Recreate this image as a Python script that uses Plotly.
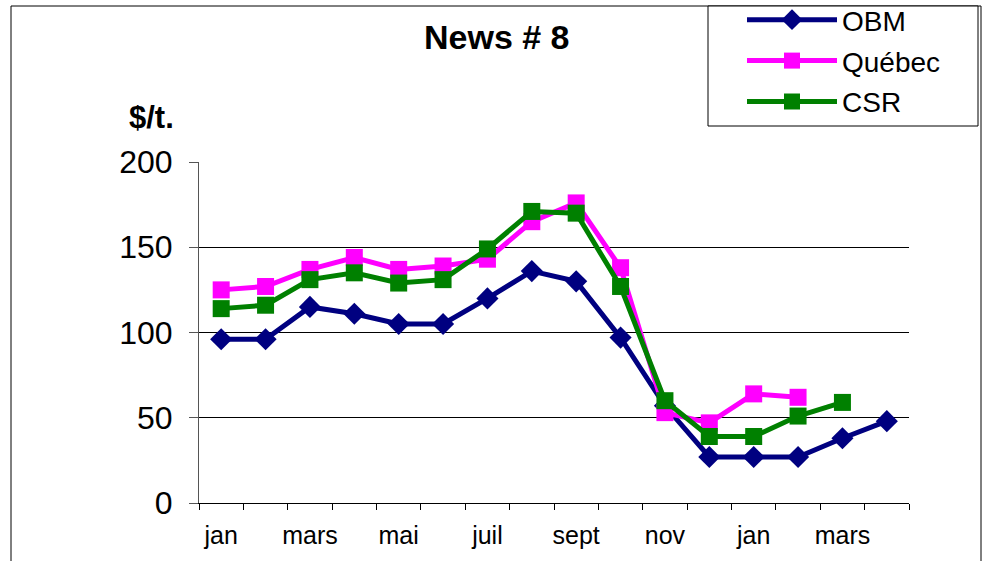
import plotly.graph_objects as go

months = ["jan", "fév", "mars", "avr", "mai", "juin", "juil", "août",
          "sept", "oct", "nov", "déc", "jan", "fév", "mars", "avr"]
tick_labels = ["jan", "mars", "mai", "juil", "sept", "nov", "jan", "mars"]

obm = [96, 96, 115, 111, 105, 105, 120, 136, 130, 97, 57, 27, 27, 27, 38, 48]
quebec = [125, 127, 137, 144, 137, 139, 143, 165, 176, 138, 53, 47, 64, 62]
csr = [114, 116, 131, 135, 129, 131, 149, 171, 170, 127, 60, 39, 39, 51, 59]

FONT = "Liberation Sans, Arial, sans-serif"

xi = list(range(len(months)))

fig = go.Figure()
fig.add_trace(go.Scatter(
    x=xi[:len(obm)], y=obm, name="OBM", mode="lines+markers",
    legendgroup="a",
    line=dict(color="#000080", width=5),
    marker=dict(symbol="diamond", size=17, color="#000080")))
fig.add_trace(go.Scatter(
    x=xi[:len(quebec)], y=quebec, name="Québec", mode="lines+markers",
    legendgroup="b",
    line=dict(color="#FF00FF", width=5),
    marker=dict(symbol="square", size=17, color="#FF00FF")))
fig.add_trace(go.Scatter(
    x=xi[:len(csr)], y=csr, name="CSR", mode="lines+markers",
    legendgroup="c",
    line=dict(color="#008000", width=5),
    marker=dict(symbol="square", size=17, color="#008000")))

L, R, T, B = 199, 77, 162, 58
W, H = 986, 561
pw, ph = W - L - R, H - T - B

def px(x):
    return (x - L) / pw

def py(y):
    return (H - B - y) / ph

fig.update_layout(
    width=W, height=H,
    margin=dict(l=L, r=R, t=T, b=B, autoexpand=False),
    paper_bgcolor="white", plot_bgcolor="white",
    font=dict(family=FONT, color="black"),
    showlegend=True,
    legend=dict(
        x=px(742), y=py(-5), xanchor="left", yanchor="top",
        bgcolor="rgba(0,0,0,0)", borderwidth=0,
        font=dict(size=28, family=FONT), itemwidth=90,
        traceorder="grouped", tracegroupgap=1.5,
    ),
    xaxis=dict(
        range=[-0.5, len(months) - 0.5],
        tickmode="array",
        tickvals=xi[::2],
        ticktext=tick_labels,
        ticks="",
        tickfont=dict(size=25),
        ticklabelstandoff=10,
        showgrid=False, zeroline=False,
        showline=True, linecolor="black", linewidth=1,
        minor=dict(ticks="outside", tickmode="linear", tick0=-0.5, dtick=1,
                   ticklen=6, tickcolor="black", tickwidth=1, showgrid=False),
    ),
    yaxis=dict(
        range=[0, 200], tickmode="linear", tick0=0, dtick=50,
        ticks="outside", ticklen=9, tickcolor="#555", tickwidth=1,
        tickfont=dict(size=32),
        ticklabelstandoff=10,
        showgrid=True, gridcolor="black", gridwidth=1,
        zeroline=False,
        showline=True, linecolor="#555", linewidth=1,
    ),
    shapes=[
        dict(type="rect", xref="paper", yref="paper",
             x0=px(11), x1=px(981), y0=py(580), y1=py(6),
             line=dict(color="black", width=1), layer="below"),
        dict(type="rect", xref="paper", yref="paper",
             x0=px(708), x1=px(978), y0=py(126), y1=py(6),
             line=dict(color="black", width=1), fillcolor="white",
             layer="below"),
    ],
    annotations=[
        dict(text="<b>News # 8</b>", xref="paper", yref="paper",
             x=px(497), y=py(37), xanchor="center", yanchor="middle",
             showarrow=False, font=dict(size=34, family=FONT)),
        dict(text="<b>$/t.</b>", xref="paper", yref="paper",
             x=px(151), y=py(118), xanchor="center", yanchor="middle",
             showarrow=False, font=dict(size=31, family=FONT)),
    ],
)

fig.write_html("out.html",
               config={"displayModeBar": False},
               post_script="document.body.style.margin='0';"
                           "document.body.style.overflow='hidden';")
